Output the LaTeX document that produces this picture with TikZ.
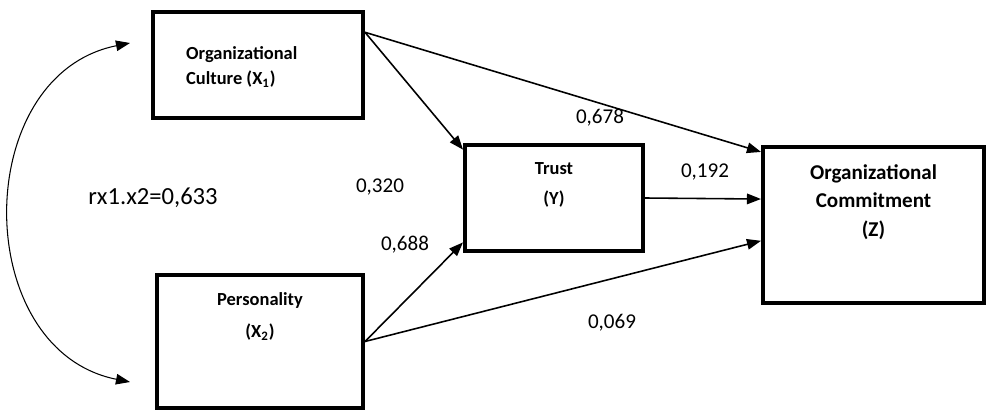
\documentclass[tikz,border=0pt]{standalone}
\usepackage{fontspec}
\setmainfont{Carlito}
\usepackage{tikz}
\usetikzlibrary{arrows.meta,positioning}

\tikzset{
  box/.style={draw, line width=2.3pt, inner sep=0pt},
  boxtext/.style={font=\fontsize{10.5}{14}\selectfont\bfseries, align=center},
  coef/.style={font=\fontsize{12}{14}\selectfont},
  arr/.style={-{Triangle[length=8pt,width=6pt]}, line width=0.9pt},
}

\begin{document}
\begin{tikzpicture}[x=0.02cm,y=-0.02cm]
\useasboundingbox (0,0) rectangle (986,412);

% boxes
\node[box, minimum width=4.2cm, minimum height=2.12cm] (x1) at (258,65) {};
\node[box, minimum width=4.12cm, minimum height=2.66cm] (x2) at (260,341.5) {};
\node[box, minimum width=3.56cm, minimum height=2.12cm] (y) at (554,198) {};
\node[box, minimum width=4.42cm, minimum height=3.12cm] (z) at (873.5,225) {};

\node[boxtext, align=left, anchor=west] (x1txt) at ([xshift=0.58cm, yshift=-0.04cm]x1.west) {Organizational\\Culture (X\textsubscript{1})};
\node[boxtext] (x2txt) at ([yshift=0.5cm]x2.center) {Personality\\[4pt](X\textsubscript{2})};
\node[boxtext] (ytxt) at ([yshift=0.26cm]y.center) {Trust\\[3pt](Y)};
\node[boxtext, font=\fontsize{12}{16.4}\selectfont\bfseries] (ztxt) at ([yshift=0.46cm]z.center) {Organizational\\Commitment\\(Z)};

% paths
\draw[arr] (x1.17) -- (y.152);
\draw[arr] (x1.17) -- (z.147);
\draw[arr] (x2.east) -- (y.206);
\draw[arr] (x2.east) -- (z.188);
\draw[arr] (y.east) -- (z.167);

\coordinate (c1) at (130,43);
\coordinate (c2) at (130,382);
\draw[{Triangle[length=8pt,width=6pt]}-{Triangle[length=8pt,width=6pt]}, line width=0.6pt]
  (c1) .. controls (-30,75) and (-30,350) .. (c2);

% coefficients
\node[coef, font=\fontsize{14}{16}\selectfont] (r12) at (153,198) {rx1.x2=0,633};
\node[coef] (p1) at (380,187) {0,320};
\node[coef] (p2) at (405,245) {0,688};
\node[coef] (p3) at (600,118) {0,678};
\node[coef] (p4) at (705,172) {0,192};
\node[coef] (p5) at (612,323) {0,069};

\end{tikzpicture}
\end{document}
